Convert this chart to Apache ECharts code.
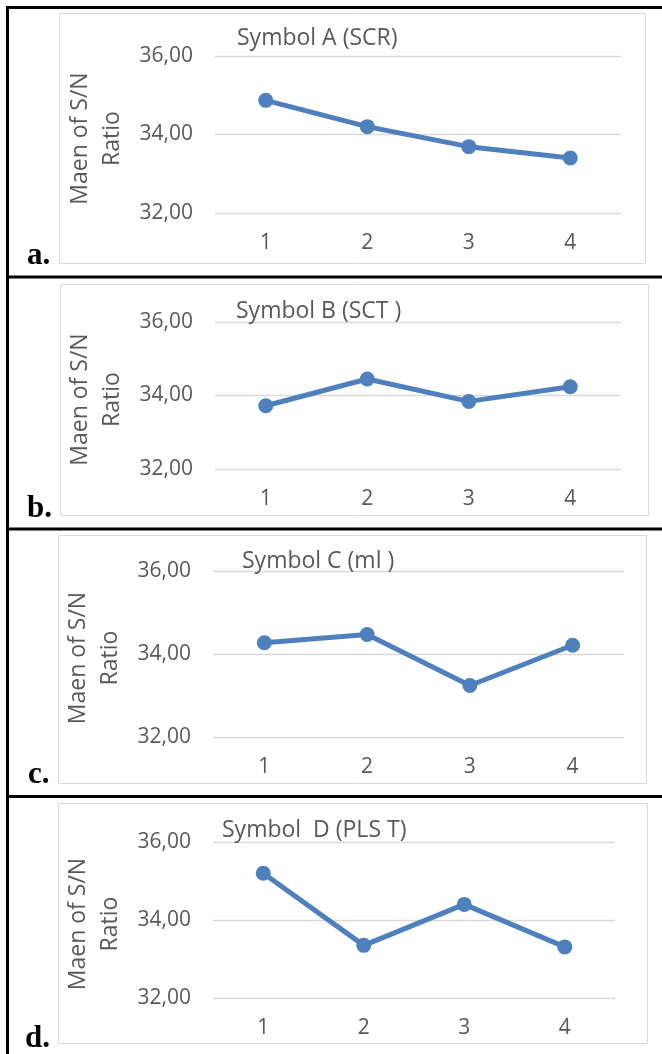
<!DOCTYPE html>
<html>
<head>
<meta charset="utf-8">
<script src="https://cdn.jsdelivr.net/npm/echarts@6/dist/echarts.min.js"></script>
<style>
  html, body { margin: 0; padding: 0; background: #fff; }
  #main { width: 662px; height: 1054px; }
</style>
</head>
<body>
<div id="main"></div>
<script>
// data
const categories = ['1', '2', '3', '4'];
const yTicks = [32, 34, 36];
const chartTitles = ['Symbol A (SCR)', 'Symbol B (SCT )', 'Symbol C (ml )', 'Symbol  D (PLS T)'];
const panelLabels = ['a.', 'b.', 'c.', 'd.'];
const axisName = 'Maen of S/N\nRatio';
const symbolA = [34.87, 34.20, 33.69, 33.40];
const symbolB = [33.72, 34.45, 33.84, 34.24];
const symbolC = [34.27, 34.47, 33.24, 34.21];
const symbolD = [35.20, 33.35, 34.40, 33.31];
const allSeries = [symbolA, symbolB, symbolC, symbolD];

// layout of the four panels (pixels)
const panels = [
  { grid: [215, 56, 406, 157], box: [59, 13, 586, 250], title: [237, 27], label: [27, 256] },
  { grid: [215, 322, 406, 147], box: [60, 284, 588, 231], title: [236, 300], label: [27, 509] },
  { grid: [213, 571, 411, 166], box: [58, 535, 588, 248], title: [242, 550], label: [28, 775] },
  { grid: [213, 842, 402, 156], box: [58, 803, 589, 240], title: [222, 819], label: [25, 1039] }
];
const sepLines = [6, 275.5, 527.5, 795];

const font = '"Open Sans", "Noto Sans", sans-serif';
const textGray = '#595959';
const lineBlue = '#4e80bd';

const myChart = echarts.init(document.getElementById('main'));

const graphic = [];
panels.forEach((p, i) => {
  // chart area frame
  graphic.push({
    type: 'rect',
    shape: { x: p.box[0] + 0.5, y: p.box[1] + 0.5, width: p.box[2], height: p.box[3] },
    style: { fill: '#fff', stroke: '#d9d9d9', lineWidth: 1 },
    z: -10
  });
  // panel letter
  graphic.push({
    type: 'text',
    x: p.label[0],
    y: p.label[1],
    style: {
      text: panelLabels[i],
      font: 'bold 31px "Liberation Serif", "DejaVu Serif", serif',
      fill: '#000',
      textVerticalAlign: 'middle'
    },
    z: 10
  });
});
// table borders
sepLines.forEach(y => {
  graphic.push({ type: 'rect', shape: { x: 6, y: y, width: 656, height: 3 }, style: { fill: '#000' } });
});
graphic.push({ type: 'rect', shape: { x: 6, y: 6, width: 3, height: 1048 }, style: { fill: '#000' } });

const option = {
  backgroundColor: '#fff',
  animation: false,
  graphic: graphic,
  title: panels.map((p, i) => ({
    text: chartTitles[i],
    left: p.title[0],
    top: p.title[1],
    padding: 0,
    textStyle: { fontFamily: font, fontSize: 23, fontWeight: 'normal', color: textGray, lineHeight: 23 }
  })),
  grid: panels.map(p => ({ left: p.grid[0], top: p.grid[1], width: p.grid[2], height: p.grid[3] })),
  xAxis: panels.map((p, i) => ({
    type: 'category',
    gridIndex: i,
    data: categories,
    boundaryGap: true,
    axisLine: { show: false },
    axisTick: { show: false },
    axisLabel: { fontFamily: font, fontSize: 21, color: textGray, margin: 20 }
  })),
  yAxis: panels.map((p, i) => ({
    type: 'value',
    gridIndex: i,
    min: yTicks[0],
    max: yTicks[yTicks.length - 1],
    interval: yTicks[1] - yTicks[0],
    name: axisName,
    nameLocation: 'middle',
    nameRotate: 90,
    nameGap: 81,
    nameTextStyle: { fontFamily: font, fontSize: 23, color: textGray, lineHeight: 32, padding: [0, 8, 0, 0] },
    axisLine: { show: false },
    axisTick: { show: false },
    splitLine: { lineStyle: { color: '#d9d9d9', width: 1.3 } },
    axisLabel: {
      fontFamily: font, fontSize: 21, color: textGray, margin: 22,
      formatter: v => v.toFixed(2).replace('.', ',')
    }
  })),
  series: allSeries.map((data, i) => ({
    type: 'line',
    xAxisIndex: i,
    yAxisIndex: i,
    data: data,
    symbol: 'circle',
    symbolSize: 15,
    lineStyle: { color: lineBlue, width: 5 },
    itemStyle: { color: lineBlue }
  }))
};
myChart.setOption(option);
</script>
</body>
</html>
